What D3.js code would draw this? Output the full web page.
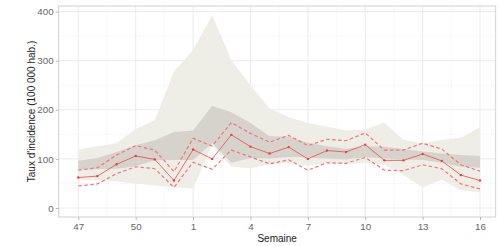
<!DOCTYPE html>
<html>
<head>
<meta charset="utf-8">
<script src="https://cdn.jsdelivr.net/npm/d3@7"></script>
<style>
  html, body { margin: 0; padding: 0; background: #fff; }
  svg { display: block; font-family: "Liberation Sans", Arial, sans-serif; }
</style>
</head>
<body>
<svg id="chart" width="504" height="246"></svg>
<script>
// ---- data ----
const weeks = ["47","48","49","50","51","52","1","2","3","4","5","6","7","8","9","10","11","12","13","14","15","16"];
const xTickLabels = ["47","50","1","4","7","10","13","16"];
const yTicks = [0, 100, 200, 300, 400];

const current  = [62, 65, 89, 106, 99, 56, 119, 100, 149, 125, 111, 124, 100, 117, 114, 129, 97, 97, 110, 96, 67, 56];
const ciUpper  = [77, 82, 108, 127, 118, 74, 142, 126, 174, 152, 134, 148, 127, 140, 137, 153, 118, 118, 132, 120, 88, 75];
const ciLower  = [45, 49, 70, 84, 80, 42, 93, 79, 118, 104, 90, 98, 77, 92, 91, 103, 77, 76, 88, 80, 49, 39];

const rangeUpper = [119, 126, 132, 161, 179, 278, 322, 393, 301, 250, 203, 185, 173, 166, 158, 160, 174, 139, 132, 139, 143, 165];
const rangeLower = [57, 57, 54, 50, 46, 43, 39, 128, 84, 81, 89, 92, 86, 91, 90, 91, 88, 67, 42, 58, 36, 32];

const iqrUpper = [96, 102, 114, 128, 138, 155, 158, 208, 195, 173, 146, 145, 133, 126, 120, 126, 125, 120, 115, 111, 108, 106];
const iqrLower = [78, 79, 80, 85, 97, 98, 98, 132, 92, 102, 101, 104, 103, 101, 99, 104, 101, 99, 98, 92, 84, 82];

// ---- layout ----
const panel = { left: 58.7, right: 495.7, top: 6, bottom: 217 };
const svg = d3.select("#chart");

const x = d3.scaleLinear().domain([-1.025, 21.82]).range([panel.left, panel.right]);
const y = d3.scaleLinear().domain([0, 400]).range([208, 11.6]);

const idx = weeks.map((w, i) => i);
const tickIdx = xTickLabels.map(l => weeks.indexOf(l));

// grid
const g = svg.append("g");
const minorY = [50, 150, 250, 350];
g.selectAll(".gym").data(minorY).join("line")
  .attr("x1", panel.left).attr("x2", panel.right)
  .attr("y1", d => y(d)).attr("y2", d => y(d))
  .attr("stroke", "#f3f3f3").attr("stroke-width", 0.6);
const minorX = tickIdx.slice(0, -1).map(i => i + 1.5);
g.selectAll(".gxm").data(minorX).join("line")
  .attr("y1", panel.top).attr("y2", panel.bottom)
  .attr("x1", d => x(d)).attr("x2", d => x(d))
  .attr("stroke", "#f3f3f3").attr("stroke-width", 0.6);
g.selectAll(".gy").data(yTicks).join("line")
  .attr("x1", panel.left).attr("x2", panel.right)
  .attr("y1", d => y(d)).attr("y2", d => y(d))
  .attr("stroke", "#ebebeb").attr("stroke-width", 1);
g.selectAll(".gx").data(tickIdx).join("line")
  .attr("y1", panel.top).attr("y2", panel.bottom)
  .attr("x1", d => x(d)).attr("x2", d => x(d))
  .attr("stroke", "#ebebeb").attr("stroke-width", 1);

// ribbons
const area = (lo, hi) => d3.area().x(i => x(i)).y0(i => y(lo[i])).y1(i => y(hi[i]));
svg.append("path").datum(idx).attr("d", area(rangeLower, rangeUpper)(idx))
  .attr("fill", "#eeede6");
svg.append("path").datum(idx).attr("d", area(iqrLower, iqrUpper)(idx))
  .attr("fill", "#d6d3cc");

// lines
const line = arr => d3.line().x(i => x(i)).y(i => y(arr[i]));
[ciUpper, ciLower].forEach(arr => {
  svg.append("path").attr("d", line(arr)(idx))
    .attr("fill", "none").attr("stroke", "#f47575").attr("stroke-width", 1.2)
    .attr("stroke-dasharray", "3.5,2.5");
});
svg.append("path").attr("d", line(current)(idx))
  .attr("fill", "none").attr("stroke", "#f04848").attr("stroke-width", 0.8);
svg.selectAll(".pt").data(idx).join("circle")
  .attr("cx", i => x(i)).attr("cy", i => y(current[i])).attr("r", 1.2)
  .attr("fill", "#f03c3c");

// panel border
svg.append("rect")
  .attr("x", panel.left).attr("y", panel.top)
  .attr("width", panel.right - panel.left).attr("height", panel.bottom - panel.top)
  .attr("fill", "none").attr("stroke", "#cccccc").attr("stroke-width", 0.9);

// axes
const yAxis = svg.append("g").attr("transform", `translate(${panel.left},0)`)
  .call(d3.axisLeft(y).tickValues(yTicks).tickSize(3).tickPadding(2));
const xAxis = svg.append("g").attr("transform", `translate(0,${panel.bottom})`)
  .call(d3.axisBottom(x).tickValues(tickIdx).tickFormat(i => weeks[i]).tickSize(3).tickPadding(3));
[yAxis, xAxis].forEach(a => {
  a.select(".domain").remove();
  a.selectAll(".tick line").attr("stroke", "#b8b8b8");
  a.selectAll(".tick text").attr("fill", "#666").style("font-size", "9.8px")
    .style("font-family", "'Liberation Sans', Arial, sans-serif");
});

// titles
svg.append("text").attr("x", (panel.left + panel.right) / 2).attr("y", 242)
  .attr("text-anchor", "middle").style("font-size", "10px").attr("fill", "#1a1a1a")
  .text("Semaine");
svg.append("text")
  .attr("transform", `translate(34.5,${(panel.top + panel.bottom) / 2}) rotate(-90)`)
  .attr("text-anchor", "middle").style("font-size", "10px").attr("fill", "#1a1a1a")
  .text("Taux d'incidence (100 000 hab.)");
</script>
</body>
</html>
